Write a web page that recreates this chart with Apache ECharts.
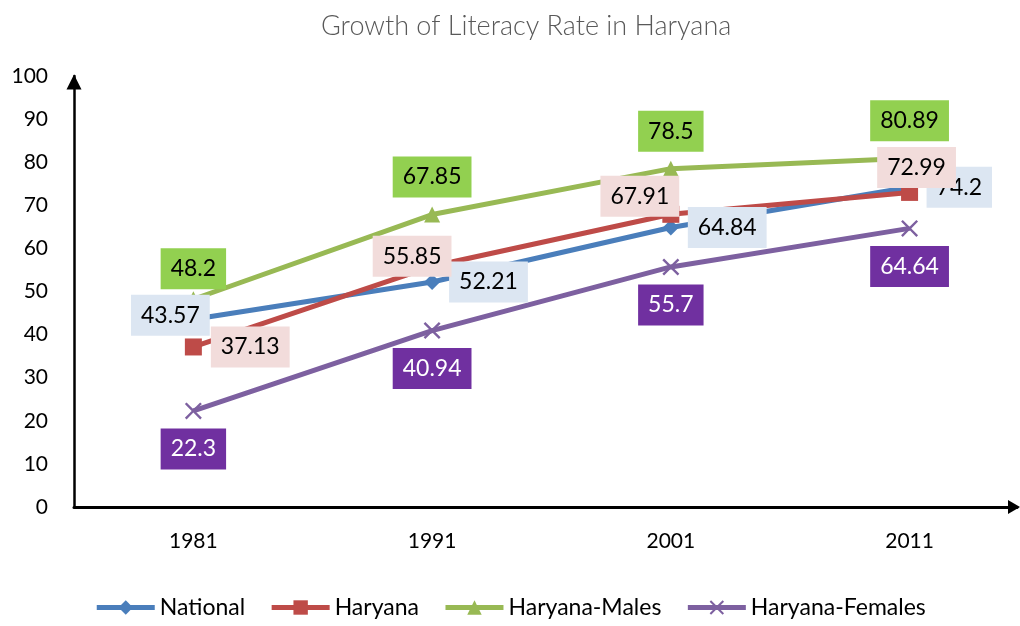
<!doctype html>
<html>
<head>
<meta charset="utf-8">
<title>Growth of Literacy Rate in Haryana</title>
<script src="https://cdn.jsdelivr.net/npm/echarts@6/dist/echarts.min.js"></script>
<style>
html,body{margin:0;padding:0;background:#fff;}
#chart{width:1020px;height:626px;}
</style>
</head>
<body>
<div id="chart"></div>
<script type="text/javascript">
var years = [1981, 1991, 2001, 2011];
var national = [43.57, 52.21, 64.84, 74.2];
var haryana = [37.13, 55.85, 67.91, 72.99];
var males = [48.2, 67.85, 78.5, 80.89];
var females = [22.3, 40.94, 55.7, 64.64];

// label tweaks for single points (where excel moved the box around)
var natTweak = {0: {position: 'inside', offset: [-23, -4]}};
var harTweak = {
	1: {position: 'inside', offset: [-20, -10]},
	2: {position: 'inside', offset: [-31, -18]},
	3: {position: 'inside', offset: [7, -25]}
};
var maleTweak = {0: {distance: 2}};
var femTweak = {};

var FONT = 'Lato, "Open Sans", sans-serif';
var crossPath = 'path://M0,1L1,0L5,4L9,0L10,1L6,5L10,9L9,10L5,6L1,10L0,9L4,5Z';

function toData(vals, tweak){
	var out = [];
	for(var i=0;i<vals.length;i++){
		var d = {value: [years[i], vals[i]]};
		if(tweak[i]) d.label = tweak[i];
		out.push(d);
	}
	return out;
}

function mkSeries(name, vals, tweak, color, symbol, size, pos, bg, txt){
	return {
		name: name,
		type: 'line',
		data: toData(vals, tweak),
		symbol: symbol,
		symbolSize: size,
		showAllSymbol: true,
		lineStyle: {color: color, width: 5},
		itemStyle: {color: color},
		label: {
			show: true,
			position: pos,
			distance: 9,
			formatter: function(p){ return p.value[1]; },
			fontFamily: FONT,
			fontSize: 23,
			lineHeight: 23,
			color: txt,
			backgroundColor: bg,
			padding: [9, 10]
		}
	};
}

var chart = echarts.init(document.getElementById('chart'));
var option = {
	animation: false,
	title: {
		text: 'Growth of Literacy Rate in Haryana',
		left: 316,
		top: 8,
		textStyle: {color: '#595959', fontFamily: FONT, fontSize: 27, fontWeight: 300}
	},
	legend: {
		bottom: 2,
		left: 'center',
		itemWidth: 58,
		itemHeight: 18,
		itemGap: 24,
		lineStyle: {width: 5},
		textStyle: {color: '#000', fontFamily: FONT, fontSize: 23}
	},
	grid: {left: 74, right: 3, top: 76, bottom: 119},
	xAxis: {
		type: 'value',
		min: 1976,
		max: 2015.5,
		splitLine: {show: false},
		axisTick: {show: false},
		axisLine: {
			show: true,
			lineStyle: {color: '#000', width: 3},
			symbol: ['none', 'triangle'],
			symbolSize: [14, 12],
			symbolOffset: [0, -3]
		},
		axisLabel: {
			customValues: years,
			margin: 24,
			color: '#000',
			fontFamily: FONT,
			fontSize: 21,
			formatter: function(v){ return String(v); }
		}
	},
	yAxis: {
		type: 'value',
		min: 0,
		max: 100,
		interval: 10,
		splitLine: {show: false},
		axisTick: {show: false},
		axisLine: {
			show: true,
			lineStyle: {color: '#000', width: 2.5},
			symbol: ['none', 'triangle'],
			symbolSize: [15, 15],
			symbolOffset: [0, -6]
		},
		axisLabel: {color: '#000', fontFamily: FONT, fontSize: 21, margin: 26}
	},
	series: [
		mkSeries('National', national, natTweak, '#4A7EBB', 'diamond', 16, 'right', '#DCE6F2', '#000'),
		mkSeries('Haryana', haryana, harTweak, '#BE4B48', 'rect', 17, 'right', '#F2DCDB', '#000'),
		mkSeries('Haryana-Males', males, maleTweak, '#98B954', 'triangle', 16, 'top', '#92D050', '#000'),
		mkSeries('Haryana-Females', females, femTweak, '#7D60A0', crossPath, 17, 'bottom', '#7030A0', '#fff')
	]
};
chart.setOption(option);
</script>
</body>
</html>
